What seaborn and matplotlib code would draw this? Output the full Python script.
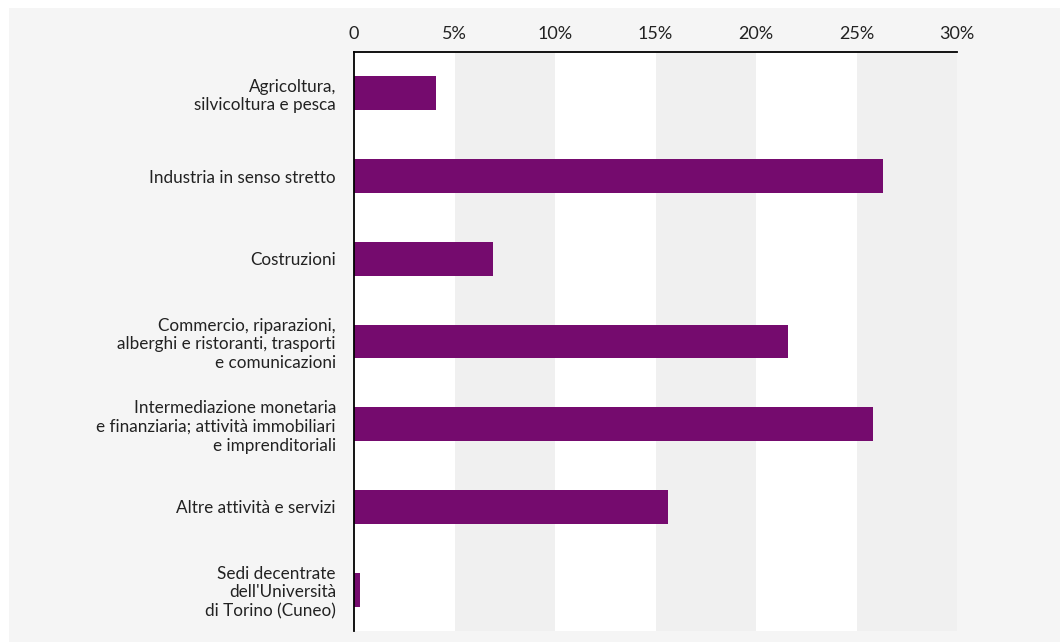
import matplotlib
matplotlib.use("Agg")
import matplotlib.pyplot as plt
import seaborn as sns
import pandas as pd
from matplotlib.patches import Rectangle

categories = [
    "Agricoltura,\nsilvicoltura e pesca",
    "Industria in senso stretto",
    "Costruzioni",
    "Commercio, riparazioni,\nalberghi e ristoranti, trasporti\ne comunicazioni",
    "Intermediazione monetaria\ne finanziaria; attività immobiliari\ne imprenditoriali",
    "Altre attività e servizi",
    "Sedi decentrate\ndell'Università\ndi Torino (Cuneo)",
]
values = [4.1, 26.3, 6.9, 21.6, 25.8, 15.6, 0.3]
tick_values = [0, 5, 10, 15, 20, 25, 30]
tick_labels = ["0", "5%", "10%", "15%", "20%", "25%", "30%"]

sns.set_theme(style="white")
plt.rcParams["font.family"] = ["Lato", "DejaVu Sans"]

df = pd.DataFrame({"cat": categories, "val": values})

fig = plt.figure(figsize=(10.6, 6.42), dpi=100, facecolor="white")
fig.patches.append(Rectangle((9 / 1060, 0), 1 - 9 / 1060, 1 - 8 / 642,
                             transform=fig.transFigure, facecolor="#f5f5f5",
                             edgecolor="none", zorder=-10))
ax = fig.add_axes([354 / 1060, 1 - 631 / 642, (957 - 354) / 1060, (631 - 52) / 642])
ax.set_facecolor("white")
for lo in (5, 15, 25):
    ax.axvspan(lo, lo + 5, color="#f0f0f0", zorder=0, lw=0)

sns.barplot(data=df, x="val", y="cat", orient="h", color="#750b6e",
            width=0.41, saturation=1, linewidth=0, edgecolor="none",
            ax=ax, zorder=2)

ax.set_xlim(0, 30)
ax.set_ylim(6.5, -0.5)
ax.set_xticks(tick_values)
ax.set_xticklabels(tick_labels, fontsize=13, color="#222222")
ax.xaxis.tick_top()
ax.tick_params(axis="x", length=0, pad=7)
ax.tick_params(axis="y", length=0, pad=13)
for lab in ax.get_yticklabels():
    lab.set_fontsize(12.3)
    lab.set_color("#222222")
    lab.set_multialignment("right")
    lab.set_linespacing(1.2)
ax.set_xlabel("")
ax.set_ylabel("")
for s in ("right", "bottom"):
    ax.spines[s].set_visible(False)
for s in ("top", "left"):
    ax.spines[s].set_color("black")
    ax.spines[s].set_linewidth(1.3)
ax.grid(False)

fig.savefig("out.png", dpi=100, facecolor="white")
